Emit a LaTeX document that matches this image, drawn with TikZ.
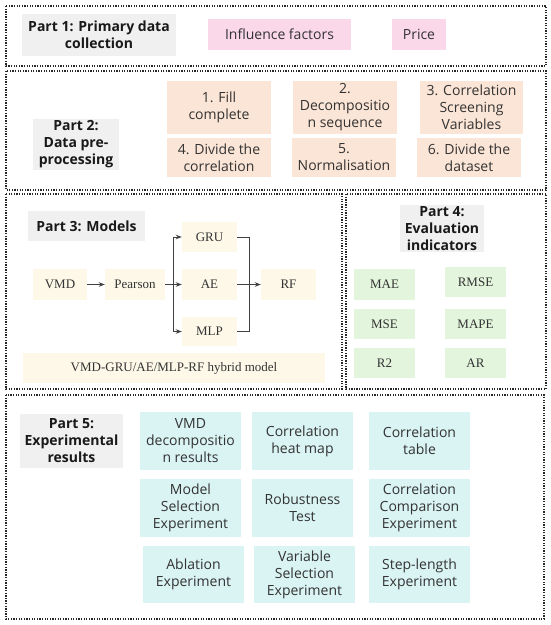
\documentclass[tikz,border=0pt]{standalone}
\usepackage{fontspec}
\setsansfont{Open Sans}
\newfontfamily\tnr{Liberation Serif}
\usetikzlibrary{arrows.meta}
\definecolor{tgray}{HTML}{F0F0F0}
\definecolor{tpink}{HTML}{FAD7E9}
\definecolor{torange}{HTML}{FBE5D6}
\definecolor{tcream}{HTML}{FDF8E8}
\definecolor{tgreen}{HTML}{E3F5DC}
\definecolor{tcyan}{HTML}{DAF3F3}
\definecolor{tline}{HTML}{404040}
\definecolor{ttext}{HTML}{333333}
\tikzset{
  frame/.style={draw=black!85, line width=1.3pt, dash pattern=on 1.3pt off 1.3pt},
  bx/.style={inner sep=0pt, align=center, text=ttext, font=\sffamily\fontsize{14}{17}\selectfont},
  ttl/.style={bx, fill=tgray, text=black!90, font=\sffamily\bfseries\fontsize{14}{17}\selectfont},
  sbx/.style={inner sep=0pt, align=center, text=ttext, font=\tnr\fontsize{13}{16}\selectfont},
  arr/.style={draw=tline, line width=1pt, -{Stealth[length=6pt,width=4.5pt]}},
  ln/.style={draw=tline, line width=1pt},
}
\begin{document}
\begin{tikzpicture}[x=1pt,y=-1pt]
\useasboundingbox (0,0) rectangle (550,625);
% frames
\draw[frame] (6,6) rectangle (546,66);
\draw[frame] (6,71) rectangle (546,190);
\draw[frame] (6,194) rectangle (342,389);
\draw[frame] (346,194) rectangle (546,389);
\draw[frame] (6,395) rectangle (544,619);
% Part 1
\node[ttl, minimum width=154, minimum height=42] (t1) at (99,35) {Part 1: Primary data\\collection};
\node[bx, fill=tpink, minimum width=143, minimum height=31] (inf) at (279.5,34.5) {Influence factors};
\node[bx, fill=tpink, minimum width=54, minimum height=31] (price) at (419,34.5) {Price};
% Part 2
\node[ttl, minimum width=86, minimum height=51] (t2) at (76,144.5) {Part 2:\\Data pre-\\processing};
\node[bx, fill=torange, minimum width=104, minimum height=53] (p1) at (219,107.5) {1. Fill\\complete};
\node[bx, fill=torange, minimum width=104, minimum height=53] (p2) at (345,107.5) {2.\\Decompositio\\n sequence};
\node[bx, fill=torange, minimum width=103, minimum height=53] (p3) at (471.5,107.5) {3. Correlation\\Screening\\Variables};
\node[bx, fill=torange, minimum width=104, minimum height=39] (p4) at (219,157.5) {4. Divide the\\correlation};
\node[bx, fill=torange, minimum width=104, minimum height=39] (p5) at (344,157.5) {5.\\Normalisation};
\node[bx, fill=torange, minimum width=104, minimum height=39] (p6) at (469,157.5) {6. Divide the\\dataset};
% Part 3
\node[ttl, minimum width=117, minimum height=30] (t3) at (86.5,226) {Part 3: Models};
\node[sbx, fill=tcream, minimum width=54, minimum height=31] (vmd) at (60,284.5) {VMD};
\node[sbx, fill=tcream, minimum width=60, minimum height=31] (pear) at (135,284.5) {Pearson};
\node[sbx, fill=tcream, minimum width=55, minimum height=30] (gru) at (209.5,237) {GRU};
\node[sbx, fill=tcream, minimum width=55, minimum height=31] (ae) at (209.5,284.5) {AE};
\node[sbx, fill=tcream, minimum width=55, minimum height=29] (mlp) at (209.5,331.5) {MLP};
\node[sbx, fill=tcream, minimum width=55, minimum height=31] (rf) at (288.5,284.5) {RF};
\node[sbx, fill=tcream, minimum width=302, minimum height=30] (hyb) at (174,368) {VMD-GRU/AE/MLP-RF hybrid model};
\coordinate (bs) at (173,237);
\coordinate (be) at (173,331.5);
\coordinate (ms) at (249,237);
\coordinate (me) at (249,331.5);
\draw[arr] (vmd) -- (pear);
\draw[arr] (pear) -- (ae);
\draw[ln] (bs) -- (be);
\draw[arr] (bs) -- (gru);
\draw[arr] (be) -- (mlp);
\draw[ln] (gru.east) -- (ms) -- (me) -- (mlp.east);
\draw[arr] (ae) -- (rf);
% Part 4
\node[ttl, minimum width=84, minimum height=47] (t4) at (442,228.5) {Part 4:\\Evaluation\\indicators};
\node[sbx, fill=tgreen, minimum width=61, minimum height=31] (mae) at (384.5,284.5) {MAE};
\node[sbx, fill=tgreen, minimum width=61, minimum height=30] (rmse) at (475.5,282) {RMSE};
\node[sbx, fill=tgreen, minimum width=61, minimum height=30] (mse) at (384.5,324) {MSE};
\node[sbx, fill=tgreen, minimum width=61, minimum height=30] (mape) at (475.5,324) {MAPE};
\node[sbx, fill=tgreen, minimum width=61, minimum height=30] (r2) at (384.5,363) {R2};
\node[sbx, fill=tgreen, minimum width=61, minimum height=30] (ar) at (475.5,363) {AR};
% Part 5
\node[ttl, minimum width=103, minimum height=54] (t5) at (71.5,441) {Part 5:\\Experimental\\results};
\node[bx, fill=tcyan, minimum width=101, minimum height=58] (e1) at (190.5,441) {VMD\\decompositio\\n results};
\node[bx, fill=tcyan, minimum width=101, minimum height=58] (e2) at (302.5,441) {Correlation\\heat map};
\node[bx, fill=tcyan, minimum width=101, minimum height=58] (e3) at (419.5,441) {Correlation\\table};
\node[bx, fill=tcyan, minimum width=101, minimum height=58] (e4) at (190.5,508) {Model\\Selection\\Experiment};
\node[bx, fill=tcyan, minimum width=101, minimum height=58] (e5) at (302.5,508) {Robustness\\Test};
\node[bx, fill=tcyan, minimum width=101, minimum height=58] (e6) at (419.5,508) {Correlation\\Comparison\\Experiment};
\node[bx, fill=tcyan, minimum width=101, minimum height=57] (e7) at (193.5,574.5) {Ablation\\Experiment};
\node[bx, fill=tcyan, minimum width=101, minimum height=57] (e8) at (304.5,574.5) {Variable\\Selection\\Experiment};
\node[bx, fill=tcyan, minimum width=101, minimum height=57] (e9) at (419.5,574.5) {Step-length\\Experiment};
\end{tikzpicture}
\end{document}
